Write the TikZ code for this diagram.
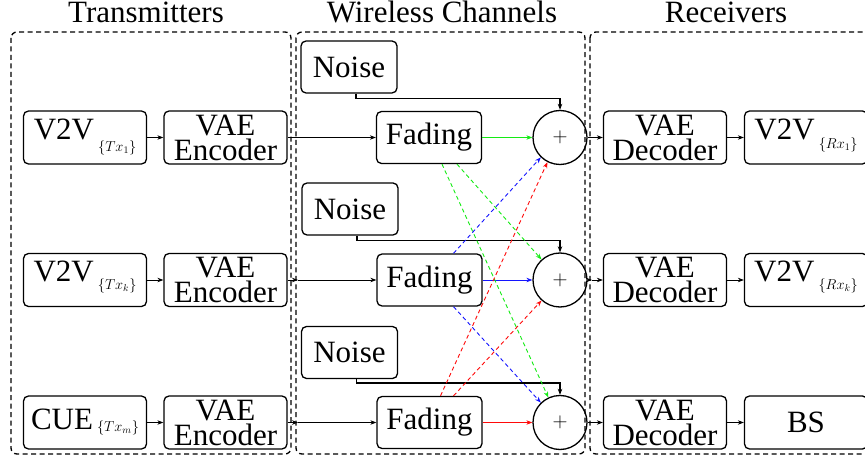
\documentclass[tikz,border=0pt]{standalone}
\usepackage{fontspec}
\setmainfont{Liberation Serif}
\usetikzlibrary{arrows.meta}
\definecolor{gcol}{RGB}{20,235,20}
\definecolor{bcol}{RGB}{20,20,255}
\definecolor{rcol}{RGB}{255,10,10}
\newcommand{\mysub}[2]{\hspace{4pt}\raisebox{-#1}{\fontsize{14}{14}\selectfont$\{#2\}$}}
\begin{document}
\begin{tikzpicture}[x=1pt,y=-1pt,
  >={Stealth[length=6pt,width=4.5pt]},
  blk/.style={draw, line width=1.3pt, rounded corners=5pt, inner sep=0pt, align=center,
    font=\fontsize{31}{25}\selectfont, minimum width=123pt, minimum height=53pt},
  noisebox/.style={blk, minimum width=96pt, minimum height=52pt},
  fadebox/.style={blk, minimum width=105pt, minimum height=52pt},
  sumnode/.style={draw, circle, line width=1.3pt, minimum size=54pt, inner sep=0pt,
    font=\fontsize{21}{21}\selectfont},
  region/.style={draw, line width=1.3pt, dash pattern=on 5pt off 3.5pt, rounded corners=6pt},
  conn/.style={->, line width=0.8pt},
  noiseconn/.style={->, line width=1.6pt},
  dashconn/.style={->, line width=0.9pt, dash pattern=on 4pt off 3pt},
  ttl/.style={anchor=base, font=\fontsize{31}{31}\selectfont, inner sep=0pt},
]
\useasboundingbox (0,0) rectangle (865,462);

% regions
\draw[region] (11,32) rectangle (291,454);
\draw[region] (296,32) rectangle (585,454);
\draw[region] (590,32) rectangle (885,454);

% titles
\node[ttl] (t1) at (146,23) {Transmitters};
\node[ttl] (t2) at (442,23) {Wireless Channels};
\node[ttl] (t3) at (726,23) {Receivers};

% row 1
\node[blk, text depth=17pt] (tx1) at (85,137.5) {V2V\mysub{12pt}{Tx_1}};
\node[blk] (enc1) at (225.5,137.5) {VAE\\Encoder};
\node[noisebox] (n1) at (349,67) {Noise};
\node[fadebox] (f1) at (429,137.5) {Fading};
\node[sumnode] (s1) at (560,137.5) {$+$};
\node[blk] (dec1) at (665,137.5) {VAE\\Decoder};
\node[blk, text depth=17pt] (rx1) at (806,137.5) {V2V\mysub{9pt}{Rx_1}};

% row 2
\node[blk, text depth=17pt] (tx2) at (85,280) {V2V\mysub{8pt}{Tx_k}};
\node[blk] (enc2) at (225.5,280) {VAE\\Encoder};
\node[noisebox] (n2) at (350,209) {Noise};
\node[fadebox] (f2) at (429.5,280) {Fading};
\node[sumnode] (s2) at (560,280) {$+$};
\node[blk] (dec2) at (665,280) {VAE\\Decoder};
\node[blk, text depth=17pt] (rx2) at (806,280) {V2V\mysub{8pt}{Rx_k}};

% row 3
\node[blk, text depth=6pt] (tx3) at (85,422.5) {CUE\mysub{2pt}{Tx_m}};
\node[blk] (enc3) at (225.5,422.5) {VAE\\Encoder};
\node[noisebox] (n3) at (349.5,352.5) {Noise};
\node[fadebox] (f3) at (429.5,422.5) {Fading};
\node[sumnode] (s3) at (560,422.5) {$+$};
\node[blk] (dec3) at (665,422.5) {VAE\\Decoder};
\node[blk] (bs) at (806,422.5) {BS};

\coordinate (b2) at (298,280);
\coordinate (b3) at (298,422.5);
\coordinate (r2) at (592,280);

% connectors row 1
\draw[conn] (tx1) -- (enc1);
\draw[conn] (enc1) -- (f1);
\draw[noiseconn] ([xshift=7pt]n1.south) -- ++(0,5) -| (s1.north);
\draw[conn, gcol] (f1) -- (s1);
\draw[conn] (s1) -- (dec1);
\draw[conn] (dec1) -- (rx1);

% row 2
\draw[conn] (tx2) -- (enc2);
\draw[conn] (enc2) -- (b2);
\draw[conn] (b2) -- (f2);
\draw[noiseconn] ([xshift=7pt]n2.south) -- ++(0,5) -| (s2.north);
\draw[conn, bcol] (f2) -- (s2);
\draw[conn] (s2) -- (r2);
\draw[conn] (r2) -- (dec2);
\draw[conn] (dec2) -- (rx2);

% row 3
\draw[conn] (tx3) -- (enc3);
\draw[conn] (enc3) -- (b3);
\draw[conn] (b3) -- (f3);
\draw[noiseconn] ([xshift=7pt]n3.south) -- ++(0,4) -| (s3.north);
\draw[conn, rcol] (f3) -- (s3);
\draw[conn] (s3) -- (dec3);
\draw[conn] (dec3) -- (bs);

% cross-channel interference
\draw[dashconn, gcol] ([xshift=13pt]f1.south) -- (s3.115);
\draw[dashconn, gcol] ([xshift=28pt]f1.south) -- (s2.132);
\draw[dashconn, bcol] ([xshift=24pt]f2.north) -- (s1.226);
\draw[dashconn, bcol] ([xshift=24pt]f2.south) -- (s3.134);
\draw[dashconn, rcol] ([xshift=11pt]f3.north) -- (s1.243);
\draw[dashconn, rcol] ([xshift=24pt]f3.north) -- (s2.228);
\end{tikzpicture}
\end{document}
